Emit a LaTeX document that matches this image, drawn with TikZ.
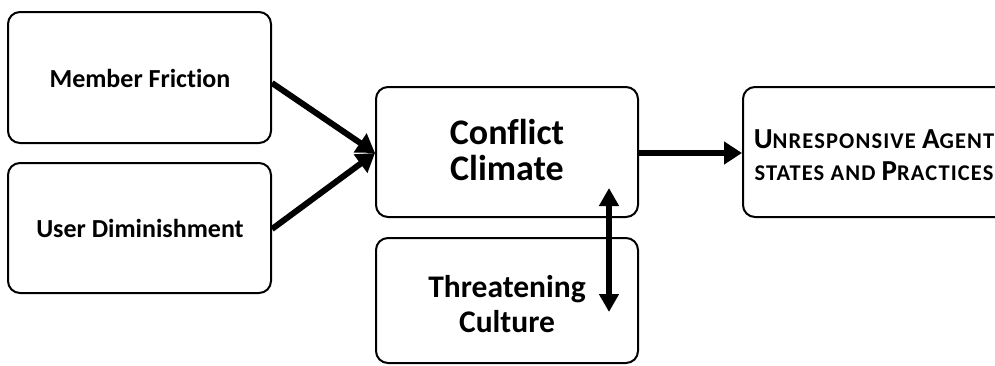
\documentclass[tikz,border=0pt]{standalone}
\usepackage{fontspec}
\setmainfont{Carlito}[Ligatures=NoCommon]
\newfontfamily\scf{Carlito}[Ligatures=NoCommon,LetterSpace=5]
\usetikzlibrary{arrows.meta}
\newcommand{\bigc}[1]{{\fontsize{29}{32}\selectfont #1}}
\newcommand{\smc}[1]{{\fontsize{22.5}{32}\selectfont #1}}
\begin{document}
\begin{tikzpicture}[x=1pt,y=-1pt,
  box/.style={draw,line width=2pt,rounded corners=12pt},
  lbl/.style={font=\bfseries\fontsize{26}{30}\selectfont,align=center,inner sep=0pt},
  big/.style={font=\bfseries\fontsize{36}{36}\selectfont,align=center,inner sep=0pt},
  mid/.style={font=\bfseries\fontsize{31.5}{35}\selectfont,align=center,inner sep=0pt},
  sc/.style={font=\scf\bfseries\fontsize{22.5}{32}\selectfont,align=center,inner sep=0pt},
  arr/.style={line width=6pt,-{Triangle[length=18pt,width=22pt]}},
  darr/.style={line width=6pt,{Triangle[length=18pt,width=19pt]}-{Triangle[length=18pt,width=19pt]}}]
\useasboundingbox (0,0) rectangle (995,365);
\draw[box] (8,12) rectangle (271,143);
\draw[box] (8,163) rectangle (271,293);
\draw[box] (376,87) rectangle (638,217);
\draw[box] (376,238) rectangle (638,363);
\draw[box] (743,87) rectangle (1010,217);
\node[lbl] (mf) at (140,78) {Member Friction};
\node[lbl] (ud) at (140,228) {User Diminishment};
\node[big] (cc) at (507,150) {Conflict\\Climate};
\node[mid] (tc) at (507,304) {Threatening\\Culture};
\node[sc] (ua) at (874,155)
  {\bigc{U}\smc{NRESPONSIVE} \bigc{A}\smc{GENT}\\\smc{STATES AND} \bigc{P}\smc{RACTICES}};
\coordinate (mfo) at (272,83);
\coordinate (udo) at (272,229);
\coordinate (cin) at (375,153);
\coordinate (cout) at (638,153);
\coordinate (uin) at (742,153);
\coordinate (vt) at (609,188);
\coordinate (vb) at (609,312);
\draw[arr] (mfo) -- (cin);
\draw[arr] (udo) -- (cin);
\draw[arr] (cout) -- (uin);
\draw[darr] (vt) -- (vb);
\end{tikzpicture}
\end{document}
